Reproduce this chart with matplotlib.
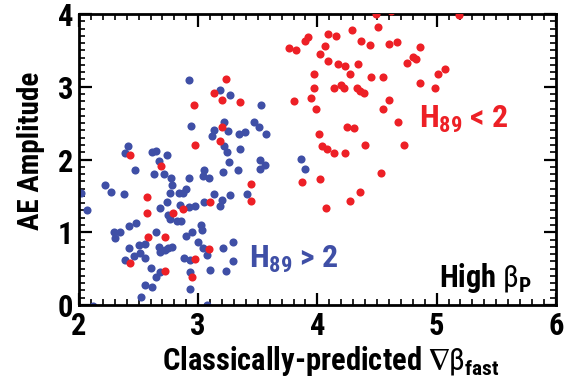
import matplotlib
matplotlib.use("Agg")
import matplotlib.pyplot as plt
from matplotlib.ticker import MultipleLocator

FONT = "Roboto Condensed"

plt.rcParams["font.family"] = [FONT, "DejaVu Sans"]
plt.rcParams["font.weight"] = "bold"
plt.rcParams["mathtext.fontset"] = "custom"
plt.rcParams["mathtext.rm"] = FONT + ":regular"
plt.rcParams["mathtext.it"] = FONT + ":regular"
plt.rcParams["mathtext.bf"] = FONT + ":bold"
plt.rcParams["mathtext.fallback"] = "stixsans"

# H89 > 2 shots
blue_x = [2.92, 3.18, 3.27, 2.94, 3.22, 3.13, 3.25, 3.12, 3.34, 3.39,
          3.22, 3.24, 3.35, 2.41, 2.39, 2.61, 2.65, 2.74, 2.67, 2.47,
          2.63, 2.71, 2.77, 2.22, 2.78, 2.27, 2.38, 2.02, 2.76, 2.84,
          2.87, 2.90, 2.92, 3.05, 3.04, 3.09, 3.21, 3.26, 3.33, 3.13,
          3.27, 3.41, 3.20, 3.18, 3.05, 2.74, 2.68, 2.85, 2.97, 2.92,
          2.75, 2.76, 2.82, 2.86, 2.48, 2.42, 2.07, 2.29, 2.34, 2.30,
          2.65, 2.95, 2.90, 3.02, 3.00, 3.04, 3.07, 3.21, 3.29, 3.29,
          3.23, 3.10, 2.88, 2.93, 2.93, 2.93, 3.07, 2.12, 2.52, 2.55,
          2.61, 2.65, 2.68, 2.60, 2.39, 2.46, 2.51, 2.55, 2.42, 2.50,
          2.55, 2.67, 2.68, 2.75, 2.78, 3.53, 3.47, 3.51, 3.57, 3.52,
          3.56, 3.52, 3.86, 3.90, 3.03, 2.72]
blue_y = [3.09, 2.96, 2.89, 2.46, 2.51, 2.41, 2.39, 2.32, 2.35, 2.38,
          2.18, 2.10, 2.15, 2.19, 2.09, 2.11, 2.12, 2.06, 1.98, 1.85,
          1.80, 1.80, 1.74, 1.65, 1.65, 1.56, 1.53, 1.54, 1.54, 1.54,
          1.54, 1.59, 1.74, 1.86, 1.77, 1.75, 1.83, 1.96, 1.86, 1.52,
          1.51, 1.53, 1.44, 1.36, 1.41, 1.41, 1.33, 1.37, 1.36, 1.35,
          1.24, 1.18, 1.16, 1.15, 1.13, 1.09, 1.31, 1.00, 1.01, 0.92,
          1.00, 1.01, 0.95, 1.10, 0.86, 0.78, 0.69, 0.78, 0.86, 0.60,
          0.47, 0.48, 0.64, 0.62, 0.46, 0.22, 0.00, -0.02, 0.11, 0.28,
          0.25, 0.39, 0.46, 0.51, 0.62, 0.67, 0.71, 0.64, 0.78, 0.82,
          0.84, 0.80, 0.73, 0.79, 0.80, 2.75, 2.51, 2.44, 2.35, 1.99,
          1.92, 1.87, 2.01, 1.87, 1.03, 0.75]

# H89 < 2 shots
red_x = [3.23, 3.13, 3.20, 3.35, 2.965, 3.20, 3.18, 2.97, 2.43, 2.69,
         2.57, 3.44, 3.44, 3.10, 2.57, 2.79, 2.87, 2.58, 2.72, 3.09,
         2.97, 2.95, 2.72, 2.43,
         3.87, 4.02, 4.07, 4.27, 4.36, 4.53, 4.04, 4.08, 4.14, 4.23,
         4.49, 4.62, 5.19, 4.51, 4.29, 3.92, 3.90, 4.09, 4.16, 4.37,
         4.44, 4.60, 4.67, 3.76, 3.82, 4.06, 4.02, 4.75, 4.09, 4.17,
         4.23, 4.27, 4.34, 3.97, 4.45, 4.55, 3.97, 4.14, 4.20, 4.22,
         4.33, 4.36, 4.39, 3.95, 3.80, 4.60, 3.99, 4.55, 4.68, 4.25,
         4.31, 4.01, 4.40, 4.73, 4.86, 4.80, 4.83, 5.01, 5.07, 4.86,
         4.99]
red_y = [3.11, 2.92, 2.82, 2.79, 2.75, 2.45, 2.26, 2.20, 2.06, 1.91,
         1.48, 1.67, 1.43, 1.42, 1.26, 1.27, 1.32, 0.93, 0.93, 0.77,
         0.63, 0.39, 0.47, 0.58,
         1.69, 1.73, 1.33, 1.43, 1.56, 1.81, 2.19, 2.14, 2.09, 2.09,
         4.00, 4.04, 3.98, 3.82, 3.78, 3.69, 3.63, 3.73, 3.70, 3.63,
         3.57, 3.59, 3.61, 3.53, 3.50, 3.56, 3.45, 3.32, 3.35, 3.31,
         3.29, 3.18, 3.31, 3.18, 3.14, 3.13, 2.98, 2.98, 3.02, 2.98,
         2.98, 2.94, 2.91, 2.84, 2.80, 2.82, 2.69, 2.70, 2.51, 2.44,
         2.43, 2.35, 2.20, 2.20, 3.54, 3.41, 3.38, 3.17, 3.25, 3.05,
         2.98]

BLUE = "#3f4fa6"
RED = "#ed2026"

fig = plt.figure(figsize=(5.65, 3.85), dpi=100)
ax = fig.add_axes([0.1398, 0.2078, 0.8439, 0.7558])

ax.scatter(blue_x, blue_y, s=34, color=BLUE, linewidths=0, zorder=2)
ax.scatter(red_x, red_y, s=34, color=RED, linewidths=0, zorder=3)

ax.set_xlim(2, 6)
ax.set_ylim(0, 4)
ax.xaxis.set_major_locator(MultipleLocator(1))
ax.xaxis.set_minor_locator(MultipleLocator(0.1))
ax.yaxis.set_major_locator(MultipleLocator(1))
ax.yaxis.set_minor_locator(MultipleLocator(0.1))
ax.tick_params(which="both", direction="in", top=True, right=True,
               color="black")
ax.tick_params(which="major", length=9, width=1.6, labelsize=22, pad=4)
ax.tick_params(which="minor", length=4.5, width=1.2)
for sp in ax.spines.values():
    sp.set_linewidth(2.0)
for lab in ax.get_xticklabels() + ax.get_yticklabels():
    lab.set_fontweight("bold")

ax.set_xlabel(r"Classically-predicted $\nabla\beta_{\mathbf{fast}}$",
              fontsize=22, fontweight="bold")
ax.xaxis.set_label_coords(0.527, -0.135)
ax.set_ylabel("AE Amplitude", fontsize=21, fontweight="bold")
ax.yaxis.set_label_coords(-0.072, 0.53)

ax.text(3.43, 0.51, r"H$_{\mathbf{89}}$ > 2", color=BLUE, fontsize=23,
        fontweight="bold", ha="left", va="baseline")
ax.text(4.85, 2.44, r"H$_{\mathbf{89}}$ < 2", color=RED, fontsize=23,
        fontweight="bold", ha="left", va="baseline")
ax.text(5.02, 0.25, r"High $\beta_{\mathbf{P}}$", color="black", fontsize=22,
        fontweight="bold", ha="left", va="baseline")

fig.savefig("out.png", dpi=100)
